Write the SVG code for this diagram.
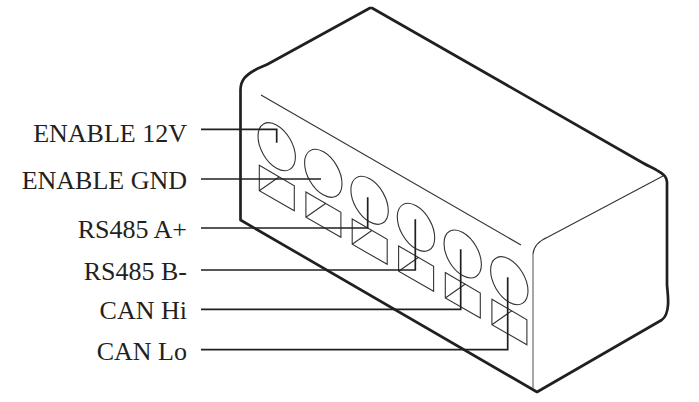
<svg xmlns="http://www.w3.org/2000/svg" width="699" height="402" viewBox="0 0 699 402">
<style>
.o{fill:none;stroke:#231f20;stroke-width:2.7;stroke-linejoin:round;stroke-linecap:round}
.t{fill:none;stroke:#333;stroke-width:1.1}
.g{fill:none;stroke:#777;stroke-width:1.3}
.l{fill:none;stroke:#231f20;stroke-width:1.7}
text{font-family:"Liberation Serif","Times New Roman",serif;font-size:26px;fill:#231f20;text-anchor:end}
</style>
<defs>
<g id="port">
<ellipse cx="0" cy="0" rx="15.4" ry="26.2" transform="rotate(-30)" class="t"/>
<path d="M-17.4 18.6L17.6 39V64L-17.4 44ZM-17.4 44L2.6 30" class="t"/>
</g>
</defs>
<rect width="699" height="402" fill="#fff"/>
<g id="housing">
<path class="o" d="M240.500 90C240.500 80 246 75 255 70C259 67.500 264 66 268 64L370 8H372L643 163C650 167 654 168 658 171C664 174 667 177 667 182L667 285C668 295 668.500 300 668 305C667.500 312 666 317 661.700 320L537 392L240.500 220V90Z"/>
<path class="g" d="M533 388V254"/>
<path class="t" d="M533 254Q534 243 548 237L663 176M261 95L521 245"/>
</g>
<g id="port-1"><use href="#port" x="276.700" y="146.700"/></g>
<g id="port-2"><use href="#port" x="323.300" y="173.300"/></g>
<g id="port-3"><use href="#port" x="369.600" y="200.300"/></g>
<g id="port-4"><use href="#port" x="416" y="227.300"/></g>
<g id="port-5"><use href="#port" x="462.700" y="254"/></g>
<g id="port-6"><use href="#port" x="509.300" y="280.700"/></g>
<g id="connectors">
<path class="l" d="M201 129.300H276.700V142.700"/>
<path class="l" d="M201 179H321"/>
<path class="l" d="M201 228H367.700V197.300"/>
<path class="l" d="M201 270H415.300V219.300"/>
<path class="l" d="M201 309.300H460.700V249.300"/>
<path class="l" d="M201 349.700H507.700V277.300"/>
</g>
<g id="labels">
<text x="187" y="141.700">ENABLE 12V</text>
<text x="187" y="189.300">ENABLE GND</text>
<text x="187" y="238">RS485 A+</text>
<text x="187" y="280">RS485 B-</text>
<text x="187" y="319.300">CAN Hi</text>
<text x="187" y="360">CAN Lo</text>
</g>
</svg>
